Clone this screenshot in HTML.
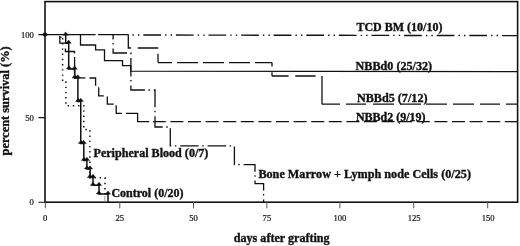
<!DOCTYPE html>
<html><head><meta charset="utf-8">
<style>
html,body{margin:0;padding:0;background:#fff;width:520px;height:246px;overflow:hidden}
svg{display:block;will-change:transform;filter:blur(0.3px)}
text{font-family:"Liberation Serif",serif}
.lb{font-weight:bold;font-size:12px;fill:#111;stroke:#111;stroke-width:0.35}
.tk{font-size:8.6px;fill:#111;stroke:#111;stroke-width:0.2}
</style></head><body>
<svg width="520" height="246" viewBox="0 0 520 246">
<g fill="none" stroke="#111" stroke-linecap="butt">
<rect x="45" y="1.6" width="472.6" height="200.6" stroke-width="1.6"/>
<path d="M38.4,34.6H45M38.4,117.6H45M38.4,202.2H45" stroke-width="1.1"/>
<path d="M45.3,202V208.3M119.8,202V208.3M193.5,202V208.3M266.9,202V208.3M339.9,202V208.3M413.7,202V208.3M487.7,202V208.3" stroke-width="1" stroke="#555"/>
<path d="M45,34.6H95.6M98.1,34.6H128.6" stroke-width="1.4"/>
<path d="M128.6,35L517,35.6" stroke-width="1.4" stroke-dasharray="17.7 4.1 1.4 4.1 1.4 3.9" stroke-dashoffset="17.9"/>
<path d="M80.5,34.6V45H95.6V49.8H104.5V60.7H122.5V65.6H130.8V71.2L517,71.6" stroke-width="1.3"/>
<path d="M128.3,34.6V48H131M137.7,48H158.3M158,53.8V62.6" stroke-width="1.3"/>
<path d="M158,62.6H272" stroke-width="1.3" stroke-dasharray="14 5 21 5 21 5 21 5 21 5 21 5"/>
<path d="M272,62.6V66.5M272,72.2V76" stroke-width="1.3"/>
<path d="M272,76H322" stroke-width="1.3" stroke-dasharray="16.6 6.7 20.3 50"/>
<path d="M322,76V104.2" stroke-width="1.3"/>
<path d="M322,104.2H517" stroke-width="1.3" stroke-dasharray="18 6 20 7 21 6 21 5 21 6 21 6 20 6 30 10"/>
<path d="M59.8,36V43.2H65.8M65.4,48.6V51.5H74.5V53.5M74.6,57V77.8H85.4M89.5,78H95.6V85.7M98.7,87.2V95.9H103.8M107.3,96.6V104.2H113.7M116.2,105.2V113.3H121.8M125.9,113.3H137.6V121.7H149.2" stroke-width="1.3"/>
<path d="M152.8,121.7H517" stroke-width="1.3" stroke-dasharray="13 4.6"/>
<path d="M113.1,34.6V53H130.9V90H155V127H170.3V145.8H234.4V164.6H255V183.6H263.6V202" stroke-width="1.3" stroke-dasharray="18.5 3.5 1.5 3.9" stroke-dashoffset="13.5"/>
<path d="M65.7,34.5V43.3H68.7V69H74.7V78H77.9V101.5H80.75V143.5H83.8V160.5H86.9V169H90.1V177.5H93V185.3H99V194H108V202" stroke-width="1.5"/>
<path d="M59.3,37.2H61.6" stroke-width="1.1"/>
<path d="M62.6,38V82H65.9V105.8H83.8V129.6H89.9V177.8H105V196" stroke-width="1.5" stroke-dasharray="1.4 3.8"/>
<path d="M104.9,196V202" stroke-width="1" stroke="#999"/>
</g>
<g fill="#111" stroke="#111" stroke-width="0.4" stroke-linejoin="round">
<ellipse cx="45" cy="34.6" rx="2.3" ry="1.8"/>
<path d="M65.60,31.90L68.30,35.20H62.90Z"/>
<path d="M68.60,40.00L71.30,43.30H65.90Z"/>
<path d="M69.00,65.70L71.70,69.00H66.30Z"/>
<path d="M74.60,65.90L77.30,69.20H71.90Z"/>
<path d="M74.75,74.70L77.45,78.00H72.05Z"/>
<path d="M77.75,74.70L80.45,78.00H75.05Z"/>
<path d="M78.20,98.20L80.90,101.50H75.50Z"/>
<path d="M80.75,98.20L83.45,101.50H78.05Z"/>
<path d="M81.00,140.20L83.70,143.50H78.30Z"/>
<path d="M83.60,140.20L86.30,143.50H80.90Z"/>
<path d="M84.00,157.20L86.70,160.50H81.30Z"/>
<path d="M86.90,157.20L89.60,160.50H84.20Z"/>
<path d="M87.00,165.70L89.70,169.00H84.30Z"/>
<path d="M90.00,165.70L92.70,169.00H87.30Z"/>
<path d="M90.00,174.20L92.70,177.50H87.30Z"/>
<path d="M93.00,174.20L95.70,177.50H90.30Z"/>
<path d="M93.00,182.20L95.70,185.50H90.30Z"/>
<path d="M99.00,182.20L101.70,185.50H96.30Z"/>
<path d="M98.90,190.70L101.60,194.00H96.20Z"/>
<path d="M108.00,190.90L110.70,194.20H105.30Z"/>
</g>
<g class="tk">
<text x="33.9" y="37.5" text-anchor="end">100</text>
<text x="33.9" y="120.5" text-anchor="end">50</text>
<text x="33.9" y="205" text-anchor="end">0</text>
<text x="45.2" y="221" text-anchor="middle">0</text>
<text x="119.8" y="221" text-anchor="middle">25</text>
<text x="193.5" y="221" text-anchor="middle">50</text>
<text x="266.9" y="221" text-anchor="middle">75</text>
<text x="339.9" y="221" text-anchor="middle">100</text>
<text x="414.2" y="221" text-anchor="middle">125</text>
<text x="488.2" y="221" text-anchor="middle">150</text>
</g>
<g class="lb">
<text x="356.4" y="31.1">TCD BM (10/10)</text>
<text x="355.6" y="70" style="font-size:12.15px">NBBd0 (25/32)</text>
<text x="357" y="102.1" style="font-size:12.15px">NBBd5 (7/12)</text>
<text x="355.9" y="121.2">NBBd2 (9/19)</text>
<text x="93.5" y="157.2" style="font-size:12.1px">Peripheral Blood (0/7)</text>
<text x="258.4" y="178" style="font-size:12.2px">Bone Marrow + Lymph node Cells (0/25)</text>
<text x="111.4" y="196.7">Control (0/20)</text>
<text x="233.8" y="242.4" style="font-size:12.1px">days after grafting</text>
<text transform="translate(9.3,100.9) rotate(-90)" text-anchor="middle" style="font-size:12.4px">percent survival (%)</text>
</g>
</svg>
</body></html>
